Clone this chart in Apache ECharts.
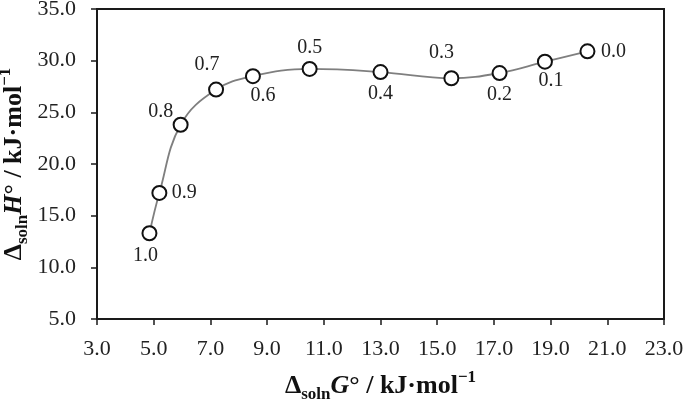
<!DOCTYPE html>
<html>
<head>
<meta charset="utf-8">
<script src="https://cdn.jsdelivr.net/npm/echarts@6/dist/echarts.min.js"></script>
<style>
html,body{margin:0;padding:0;background:#fff;}
#c{width:685px;height:401px;}
</style>
</head>
<body>
<div id="c"></div>
<script>
// Data
var fractions = ['1.0','0.9','0.8','0.7','0.6','0.5','0.4','0.3','0.2','0.1','0.0'];
var dG = [4.85, 5.2, 5.95, 7.2, 8.5, 10.5, 13.0, 15.5, 17.2, 18.8, 20.3];
var dH = [13.3, 17.2, 23.8, 27.2, 28.5, 29.2, 28.9, 28.3, 28.8, 29.9, 30.9];
var xTicks = {min: 3, max: 23, step: 2};
var yTicks = {min: 5, max: 35, step: 5};

// Label placement (styling only)
var labelOffsets = [[-4,23],[25,0],[-20,-13],[-9,-25],[10,20],[0,-21],[0,22],[-10,-25],[0,22],[6,19],[26,0]];

var serif = '"Liberation Serif","Times New Roman",serif';
function titleRich(){
  return {
    d:{fontFamily:serif,fontSize:26,fontWeight:'bold',color:'#111',lineHeight:34},
    s:{fontFamily:serif,fontSize:17,fontWeight:'bold',color:'#111',lineHeight:18,verticalAlign:'bottom'},
    i:{fontFamily:serif,fontSize:26,fontWeight:'bold',fontStyle:'italic',color:'#111',lineHeight:34},
    n:{fontFamily:serif,fontSize:26,fontWeight:'bold',color:'#111',lineHeight:34},
    p:{fontFamily:serif,fontSize:17,fontWeight:'bold',color:'#111',lineHeight:18,verticalAlign:'top'}
  };
}

var data = dG.map(function(g, k){
  return {
    value:[g, dH[k]],
    name: fractions[k],
    label:{offset: labelOffsets[k]}
  };
});

var chart = echarts.init(document.getElementById('c'), null, {renderer:'canvas'});
chart.setOption({
  animation:false,
  backgroundColor:'#fff',
  grid:{left:97,right:21,top:9,bottom:82,containLabel:false,outerBoundsMode:'none',show:true,borderColor:'#1a1a1a',borderWidth:2,backgroundColor:'transparent'},
  xAxis:{
    type:'value',min:xTicks.min,max:xTicks.max,interval:xTicks.step,
    axisLine:{show:true,lineStyle:{color:'#1a1a1a',width:2}},
    axisTick:{show:true,inside:false,length:6,lineStyle:{color:'#1a1a1a',width:1.5}},
    splitLine:{show:false},
    axisLabel:{margin:19,fontFamily:serif,fontSize:22,color:'#222',formatter:function(v){return v.toFixed(1);}},
    name:'{d|Δ}{s|soln}{i|G}{n|° / kJ·mol}{p|−1}',
    nameLocation:'middle',nameGap:50,nameMoveOverlap:false,
    nameTextStyle:{rich:titleRich()}
  },
  yAxis:{
    type:'value',min:yTicks.min,max:yTicks.max,interval:yTicks.step,
    axisLine:{show:true,lineStyle:{color:'#1a1a1a',width:2}},
    axisTick:{show:true,inside:false,length:6,lineStyle:{color:'#1a1a1a',width:1.5}},
    splitLine:{show:false},
    axisLabel:{margin:21,fontFamily:serif,fontSize:22,color:'#222',formatter:function(v){return v.toFixed(1);}},
    name:'{d|Δ}{s|soln}{i|H}{n|° / kJ·mol}{p|−1}',
    nameLocation:'middle',nameGap:66,nameRotate:90,nameMoveOverlap:false,
    nameTextStyle:{rich:titleRich()}
  },
  series:[{
    type:'line',
    data:data,
    smooth:0.4,
    symbol:'emptyCircle',
    symbolSize:14,
    lineStyle:{color:'#7f7f7f',width:1.8},
    itemStyle:{color:'#111',borderColor:'#111',borderWidth:2},
    label:{show:true,position:'inside',formatter:function(p){return p.name;},fontFamily:serif,fontSize:20,color:'#222'},
    emphasis:{disabled:true}
  }]
});
</script>
</body>
</html>
